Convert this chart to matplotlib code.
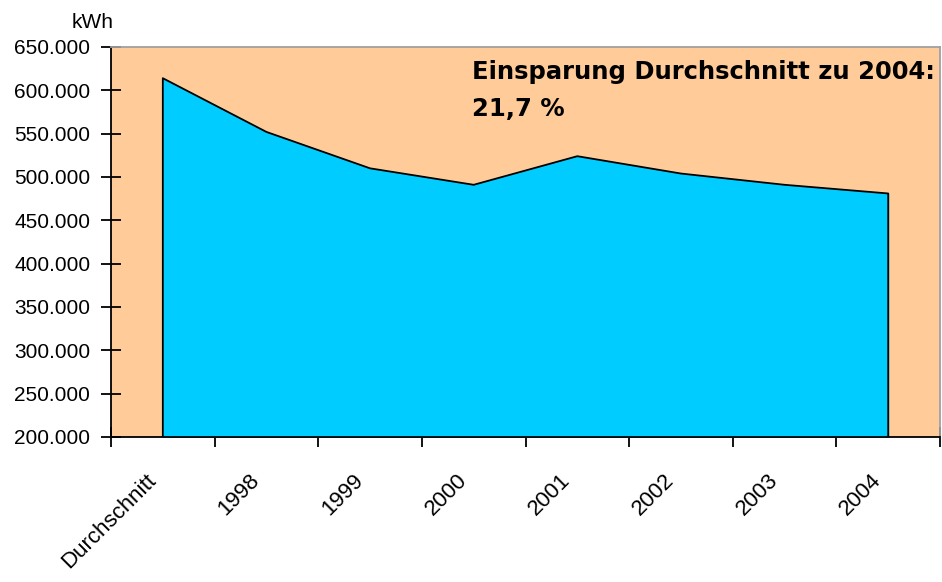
import matplotlib.pyplot as plt
import matplotlib.transforms as mtransforms
from matplotlib.ticker import FixedLocator, FuncFormatter

categories = ["Durchschnitt", "1998", "1999", "2000", "2001", "2002", "2003", "2004"]
verbrauch = [614000, 552000, 510000, 491000, 524000, 504000, 491000, 481000]
y_ticks = list(range(200000, 650001, 50000))

plt.rcParams['font.family'] = ['Liberation Sans', 'DejaVu Sans']

fig = plt.figure(figsize=(9.42, 5.82), dpi=100)
ax = fig.add_axes([111 / 942, 1 - 437 / 582, (940 - 111) / 942, (437 - 47) / 582])
ax.set_facecolor('#FFCC99')

x = list(range(len(categories)))
ax.fill_between(x, 200000, verbrauch, color='#00CCFF', zorder=2)
ax.plot([x[0]] + x + [x[-1]], [200000] + verbrauch + [200000], color='black', lw=1.3, zorder=3)

ax.set_xlim(-0.5, len(categories) - 0.5)
ax.set_ylim(200000, 650000)

# ticks between categories, labels at category centres
ax.xaxis.set_major_locator(FixedLocator([i - 0.5 for i in range(len(categories) + 1)]))
ax.xaxis.set_major_formatter(FuncFormatter(lambda v, p: ""))
ax.xaxis.set_minor_locator(FixedLocator(x))
ax.set_xticklabels(categories, minor=True, rotation=45, ha='right', va='center',
                   rotation_mode='anchor', fontsize=16)
ax.tick_params(axis='x', which='minor', length=0, pad=29)
ax.tick_params(axis='x', which='major', direction='inout', length=14, width=1.3)
shift = mtransforms.ScaledTranslation(-10 / 100, 0, fig.dpi_scale_trans)
for lbl in ax.get_xticklabels(minor=True):
    lbl.set_transform(lbl.get_transform() + shift)

ax.set_yticks(y_ticks)
ax.yaxis.set_major_formatter(FuncFormatter(lambda v, p: f"{int(v) // 1000}.000"))
ax.tick_params(axis='y', direction='inout', length=14, width=1.3, labelsize=15, pad=8)

for s in ['left', 'bottom']:
    ax.spines[s].set_color('black')
    ax.spines[s].set_linewidth(1.3)
for s in ['top', 'right']:
    ax.spines[s].set_color('#A0A0A0')
    ax.spines[s].set_linewidth(1.3)

fig.text(72 / 942, 1 - 22 / 582, "kWh", fontsize=15, va='center')

ax.text(3 - 0.02, 621000, "Einsparung Durchschnitt zu 2004:", fontsize=17.5, fontweight='bold',
        family='DejaVu Sans', va='center')
ax.text(3 - 0.02, 579000, "21,7 %", fontsize=17.5, fontweight='bold',
        family='DejaVu Sans', va='center')

fig.savefig('out.png', dpi=100)
